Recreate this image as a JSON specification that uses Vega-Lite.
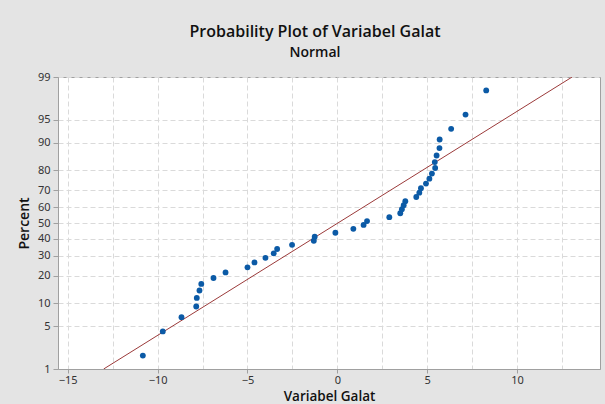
{
  "$schema": "https://vega.github.io/schema/vega-lite/v6.json",
  "autosize": {"type": "none"},
  "width": 542,
  "height": 292,
  "padding": {"left": 58, "top": 77, "right": 5, "bottom": 35},
  "background": "#e4e4e4",
  "title": {
    "text": "Probability Plot of Variabel Galat",
    "subtitle": "Normal",
    "anchor": "middle",
    "dx": -14,
    "offset": 11,
    "font": "Open Sans",
    "fontSize": 16,
    "fontWeight": 600,
    "color": "#111111",
    "subtitleFont": "Open Sans",
    "subtitleFontSize": 14,
    "subtitleFontWeight": 600,
    "subtitleColor": "#111111",
    "subtitlePadding": 6
  },
  "config": {
    "view": {"stroke": "#a0a0a0", "strokeWidth": 1, "fill": "white"},
    "axis": {
      "labelFont": "Noto Sans",
      "labelFontSize": 11,
      "labelColor": "#333333",
      "titleFont": "Open Sans",
      "titleFontSize": 14,
      "titleFontWeight": 600,
      "titleColor": "#111111",
      "domainColor": "#a0a0a0",
      "tickColor": "#a0a0a0",
      "tickSize": 5,
      "gridColor": "#dadada",
      "gridDash": [5, 3],
      "gridWidth": 1
    }
  },
  "datasets": {
    "points": [
      {"galat": -10.82, "percent": 1.733},
      {"galat": -9.71, "percent": 4.208},
      {"galat": -8.67, "percent": 6.683},
      {"galat": -7.85, "percent": 9.158},
      {"galat": -7.82, "percent": 11.634},
      {"galat": -7.67, "percent": 14.109},
      {"galat": -7.57, "percent": 16.584},
      {"galat": -6.89, "percent": 19.059},
      {"galat": -6.22, "percent": 21.535},
      {"galat": -5.0, "percent": 24.010},
      {"galat": -4.61, "percent": 26.485},
      {"galat": -4.0, "percent": 28.960},
      {"galat": -3.54, "percent": 31.436},
      {"galat": -3.35, "percent": 33.911},
      {"galat": -2.52, "percent": 36.386},
      {"galat": -1.31, "percent": 38.861},
      {"galat": -1.26, "percent": 41.337},
      {"galat": -0.11, "percent": 43.812},
      {"galat": 0.89, "percent": 46.287},
      {"galat": 1.46, "percent": 48.762},
      {"galat": 1.65, "percent": 51.238},
      {"galat": 2.89, "percent": 53.713},
      {"galat": 3.5, "percent": 56.188},
      {"galat": 3.59, "percent": 58.663},
      {"galat": 3.69, "percent": 61.139},
      {"galat": 3.78, "percent": 63.614},
      {"galat": 4.39, "percent": 66.089},
      {"galat": 4.56, "percent": 68.564},
      {"galat": 4.65, "percent": 71.040},
      {"galat": 4.93, "percent": 73.515},
      {"galat": 5.12, "percent": 75.990},
      {"galat": 5.26, "percent": 78.465},
      {"galat": 5.44, "percent": 80.941},
      {"galat": 5.42, "percent": 83.416},
      {"galat": 5.52, "percent": 85.891},
      {"galat": 5.68, "percent": 88.366},
      {"galat": 5.69, "percent": 90.842},
      {"galat": 6.33, "percent": 93.317},
      {"galat": 7.13, "percent": 95.792},
      {"galat": 8.28, "percent": 98.267}
    ],
    "fit": [
      {"galat": -13.0, "percent": 1},
      {"galat": 13.06, "percent": 99}
    ]
  },
  "encoding": {
    "x": {
      "field": "galat",
      "type": "quantitative",
      "scale": {"domain": [-15.54, 14.61], "nice": false, "zero": false},
      "axis": {
        "title": "Variabel Galat",
        "values": [-15, -12.5, -10, -7.5, -5, -2.5, 0, 2.5, 5, 7.5, 10, 12.5],
        "labelExpr": "datum.value % 5 === 0 ? datum.label : ''",
        "tickOpacity": {"condition": {"test": "datum.value % 5 !== 0", "value": 0}, "value": 1},
        "tickSize": 4,
        "labelPadding": 1,
        "titleFontSize": 13.5,
        "titlePadding": 4
      }
    },
    "y": {
      "field": "z",
      "type": "quantitative",
      "scale": {"domain": [-2.3263, 2.3263], "nice": false, "zero": false},
      "axis": {
        "title": "Percent",
        "values": [-2.3263, -1.6449, -1.2816, -0.8416, -0.5244, -0.2533, 0, 0.2533, 0.5244, 0.8416, 1.2816, 1.6449, 2.3263],
        "labelExpr": "format(round(cumulativeNormal(datum.value) * 100), 'd')",
        "labelPadding": 3,
        "titlePadding": 6
      }
    }
  },
  "layer": [
    {
      "data": {"name": "fit"},
      "transform": [{"calculate": "quantileNormal(datum.percent / 100)", "as": "z"}],
      "mark": {"type": "line", "color": "#9b3a3a", "strokeWidth": 1, "clip": true}
    },
    {
      "data": {"name": "points"},
      "transform": [{"calculate": "quantileNormal(datum.percent / 100)", "as": "z"}],
      "mark": {"type": "circle", "size": 34, "color": "#0b5aa6", "opacity": 1}
    }
  ]
}
